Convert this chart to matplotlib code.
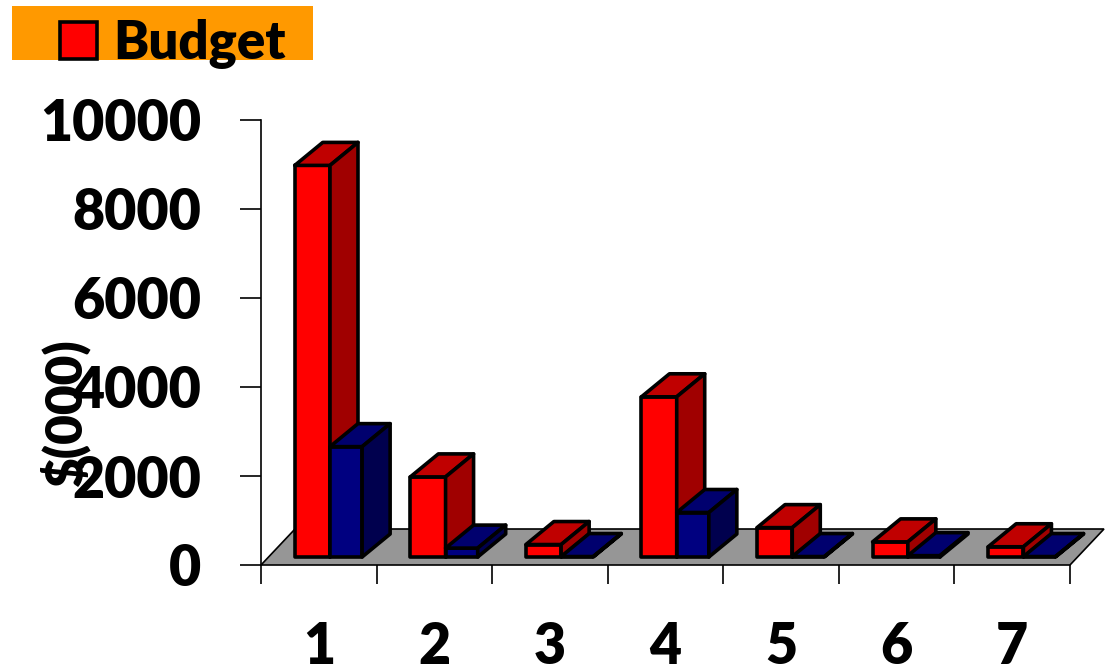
import matplotlib.pyplot as plt
from matplotlib.patches import Polygon, Patch, Rectangle

# data, in $(000)
categories = ['1', '2', '3', '4', '5', '6', '7']
budget = [8800, 1800, 280, 3600, 660, 340, 230]
actual = [2480, 200, 10, 1000, 10, 30, 10]
y_ticks = [0, 2000, 4000, 6000, 8000, 10000]

plt.rcParams['font.family'] = ['Lato', 'DejaVu Sans']
plt.rcParams['font.weight'] = 'heavy'

W, H = 1110, 671
fig = plt.figure(figsize=(W / 100, H / 100), dpi=100)
ax = fig.add_axes([0, 0, 1, 1])

# pixel layout of the plot: origin of the axis, pixels per category / per unit
x0_px, y0_px = 261, 565
cat_px = 115.57
val_px = 0.0445
ax.set_xlim(-x0_px / cat_px, (W - x0_px) / cat_px)
ax.set_ylim(-(H - y0_px) / val_px, y0_px / val_px)

# 3d offsets in data units
floor_dx, floor_dy = 34 / cat_px, 36 / val_px
bar_dx, bar_dy = 28 / cat_px, 23 / val_px
base = 8 / val_px
n = len(categories)

# floor
ax.add_patch(Polygon([(0, 0), (n, 0), (n + floor_dx, floor_dy), (floor_dx, floor_dy)],
                     closed=True, facecolor='#969696', edgecolor='black', lw=1.2, zorder=1))


def draw_bar(x_left, x_right, value, front, top, side):
    y1 = base + value
    faces = [
        ([(x_left, base), (x_right, base), (x_right, y1), (x_left, y1)], front),
        ([(x_left, y1), (x_right, y1), (x_right + bar_dx, y1 + bar_dy), (x_left + bar_dx, y1 + bar_dy)], top),
        ([(x_right, base), (x_right + bar_dx, base + bar_dy), (x_right + bar_dx, y1 + bar_dy), (x_right, y1)], side),
    ]
    for pts, c in faces:
        ax.add_patch(Polygon(pts, closed=True, facecolor=c, edgecolor='black',
                             lw=2.6, joinstyle='round', zorder=2))


for i in range(n):
    a, b, c = i + 0.292, i + 0.597, i + 0.875
    draw_bar(a, b, budget[i], '#FF0000', '#C00000', '#A00000')
    draw_bar(b, c, actual[i], '#000080', '#00006E', '#00004E')

# axes
for s in ['top', 'right']:
    ax.spines[s].set_visible(False)
ax.spines['left'].set_position(('data', 0))
ax.spines['left'].set_bounds(0, 10000)
ax.spines['left'].set_linewidth(1.2)
ax.spines['bottom'].set_position(('data', 0))
ax.spines['bottom'].set_color('none')

ax.set_yticks(y_ticks)
ax.set_yticklabels([str(t) for t in y_ticks])
ax.tick_params(axis='y', length=15, width=1.2, pad=28, labelsize=40)

ax.set_xticks([i + 0.5 for i in range(n)])
ax.set_xticklabels(categories)
ax.set_xticks(range(n + 1), minor=True)
ax.tick_params(axis='x', which='major', length=0, pad=40, labelsize=40)
ax.tick_params(axis='x', which='minor', length=14, width=1.2, color='black')

fig.text(65 / W, 1 - 412 / H, '$(000)', rotation=90, fontsize=37,
         fontweight='heavy', ha='center', va='center')

# legend on an orange band
fig.patches.append(Rectangle((12 / W, 1 - 60 / H), 301 / W, 54 / H,
                             transform=fig.transFigure, facecolor='#FF9900',
                             edgecolor='none', zorder=0))
leg = fig.legend(handles=[Patch(facecolor='#FF0000', edgecolor='black', lw=2.6, label='Budget')],
                 loc='center left', bbox_to_anchor=(60 / W, 1 - 44 / H), frameon=False,
                 fontsize=38, handlelength=0.7, handleheight=0.7, handletextpad=0.3,
                 borderpad=0, borderaxespad=0)
leg.get_texts()[0].set_fontweight('heavy')

fig.savefig('out.png', dpi=100)
